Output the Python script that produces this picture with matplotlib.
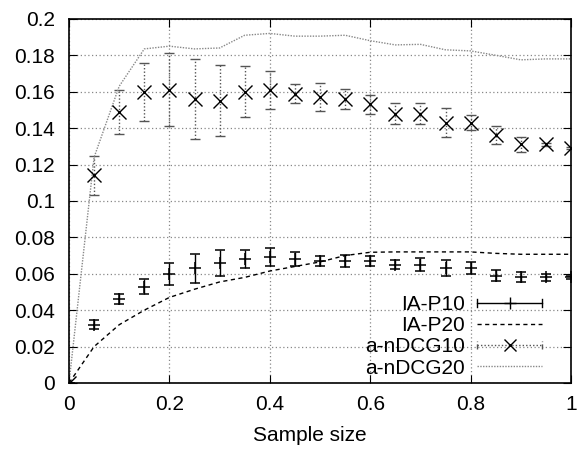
import numpy as np
import matplotlib
matplotlib.use("Agg")
import matplotlib.pyplot as plt
from matplotlib.lines import Line2D
from matplotlib.legend_handler import HandlerLine2D

plt.rcParams['font.family'] = ['Liberation Sans', 'DejaVu Sans']

sample = [0, 0.05, 0.1, 0.15, 0.2, 0.25, 0.3, 0.35, 0.4, 0.45, 0.5,
          0.55, 0.6, 0.65, 0.7, 0.75, 0.8, 0.85, 0.9, 0.95, 1.0]

ia_p10 = [0, 0.032, 0.046, 0.053, 0.060, 0.063, 0.066, 0.068, 0.069, 0.068, 0.067,
          0.067, 0.067, 0.065, 0.065, 0.063, 0.063, 0.059, 0.058, 0.058, 0.058]
ia_p10_err = [0, 0.0025, 0.0027, 0.004, 0.006, 0.008, 0.007, 0.005, 0.005, 0.004, 0.0025,
              0.0035, 0.0027, 0.0026, 0.0037, 0.0044, 0.0034, 0.0032, 0.0027, 0.002, 0.001]

ia_p20 = [0, 0.020, 0.032, 0.040, 0.047, 0.0515, 0.0555, 0.058, 0.0615, 0.064, 0.0665,
          0.070, 0.0718, 0.072, 0.072, 0.072, 0.072, 0.0712, 0.0707, 0.0707, 0.0707]

ndcg10 = [0, 0.114, 0.149, 0.160, 0.161, 0.156, 0.155, 0.160, 0.161, 0.159, 0.157,
          0.156, 0.153, 0.148, 0.148, 0.143, 0.143, 0.136, 0.131, 0.131, 0.129]
ndcg10_err = [0, 0.0105, 0.012, 0.016, 0.02, 0.022, 0.0195, 0.014, 0.0105, 0.005, 0.0075,
              0.0055, 0.005, 0.006, 0.006, 0.008, 0.004, 0.005, 0.004, 0.001, 0.0005]

ndcg20 = [0, 0.124, 0.163, 0.1835, 0.185, 0.1835, 0.184, 0.191, 0.192, 0.1905, 0.1905,
          0.191, 0.188, 0.1857, 0.186, 0.183, 0.1824, 0.180, 0.1775, 0.178, 0.178]


class HandlerCapped(HandlerLine2D):
    """gnuplot-like errorbar key: horizontal line, marker in middle, caps at ends"""
    def create_artists(self, legend, orig_handle, xdescent, ydescent, width, height,
                       fontsize, trans):
        arts = super().create_artists(legend, orig_handle, xdescent, ydescent, width,
                                      height, fontsize, trans)
        yc = height / 2 - ydescent
        for xe in (-xdescent, width - xdescent):
            cap = Line2D([xe, xe], [yc - 3, yc + 3], color=orig_handle.get_color(),
                         lw=1.0, ls=orig_handle.get_linestyle(), transform=trans)
            arts.append(cap)
        return arts


fig = plt.figure(figsize=(5.77, 4.49), dpi=100)
ax = fig.add_axes([0.1196, 0.147, 0.87, 0.811])

ax.errorbar(sample, ia_p10, yerr=ia_p10_err, fmt='+', color='black', ms=8, mew=1.1,
            elinewidth=1.0, capsize=3.5)
ax.plot(sample, ia_p20, color='black', ls=(0, (3, 2.5)), lw=1.0)
eb = ax.errorbar(sample, ndcg10, yerr=ndcg10_err, fmt='x', color='black', ms=10, mew=1.0,
                 elinewidth=1.0, capsize=3.5, ecolor='#555555')
for c in eb[2]:
    c.set_linestyle((0, (1, 1.5)))
ax.plot(sample, ndcg20, color='#888888', ls=(0, (1, 1)), lw=1.0)

ax.set_xlim(0, 1)
ax.set_ylim(0, 0.2)
ax.set_xticks([0, 0.2, 0.4, 0.6, 0.8, 1])
ax.set_xticklabels(['0', '0.2', '0.4', '0.6', '0.8', '1'])
ax.set_yticks(np.arange(0, 0.201, 0.02))
ax.set_yticklabels(['0', '0.02', '0.04', '0.06', '0.08', '0.1', '0.12', '0.14', '0.16', '0.18', '0.2'])
ax.tick_params(direction='in', length=6, labelsize=15, top=True, right=True)
ax.tick_params(axis='x', pad=9)
ax.tick_params(axis='y', pad=10)
ax.grid(True, color='#888888', ls=(0, (1, 2)), lw=0.9)
for s in ax.spines.values():
    s.set_linewidth(1.2)
ax.set_xlabel('Sample size', fontsize=15)
ax.xaxis.set_label_coords(0.48, -0.117)

h_p10 = Line2D([], [], color='black', marker='+', ms=8, mew=1.0, lw=1.0)
h_p20 = Line2D([], [], color='black', ls=(0, (3, 2.5)), lw=1.0)
h_n10 = Line2D([], [], color='#555555', marker='x', ms=8.5, mew=1.0, mec='black',
               lw=1.0, ls=(0, (1, 1.5)))
h_n20 = Line2D([], [], color='#888888', ls=(0, (1, 1)), lw=1.0)
ax.legend([h_p10, h_p20, h_n10, h_n20], ['IA-P10', 'IA-P20', 'a-nDCG10', 'a-nDCG20'],
          handler_map={h_p10: HandlerCapped(numpoints=1), h_n10: HandlerCapped(numpoints=1)},
          loc='lower right', bbox_to_anchor=(0.942, 0.015), frameon=False,
          markerfirst=False, fontsize=15, handlelength=3.1, borderpad=0,
          borderaxespad=0, labelspacing=0.1, handletextpad=0.6)

fig.savefig('out.png', dpi=100)
